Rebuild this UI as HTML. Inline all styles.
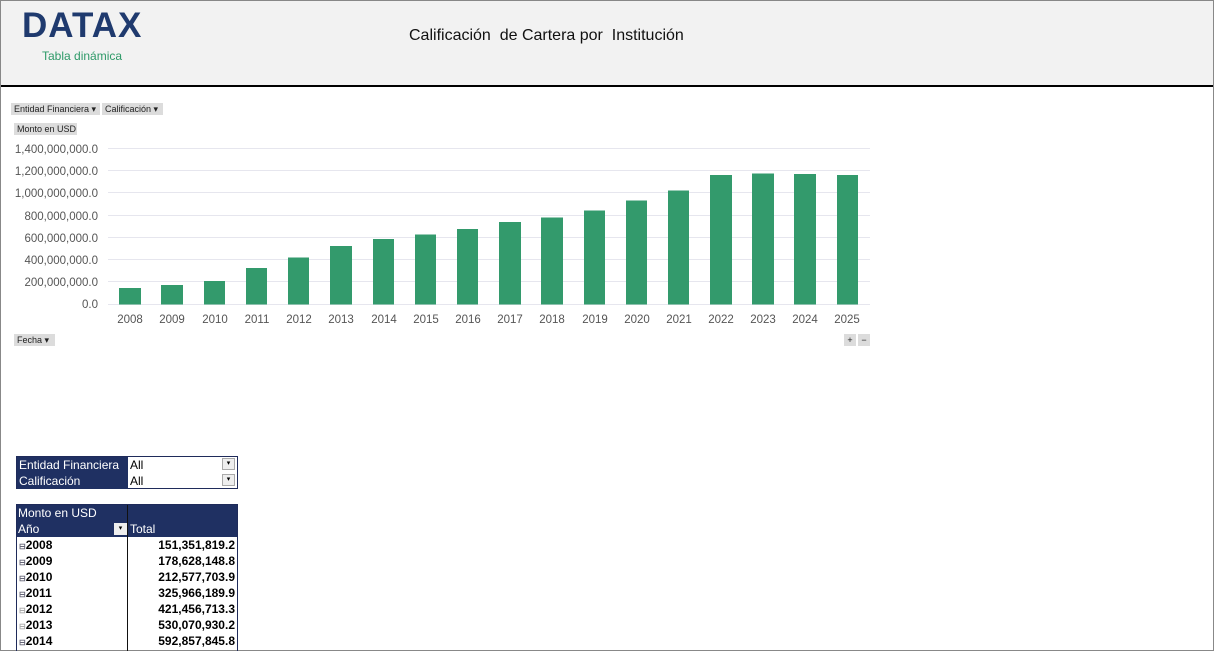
<!DOCTYPE html>
<html><head><meta charset="utf-8"><style>
html,body{margin:0;width:1214px;height:651px;overflow:hidden}
body{background:#fff;font-family:"Liberation Sans",sans-serif;position:relative}
.frame{position:absolute;left:0;top:0;width:1212px;height:649px;border:1px solid #888;}
.hdr{position:absolute;left:1px;top:1px;width:1212px;height:84px;background:#f2f2f2;border-bottom:2px solid #000}
.btn{position:absolute;background:#dcdcdc;font-size:9px;color:#222;height:12px;line-height:12px;padding:0 3px;box-sizing:border-box;white-space:nowrap}
.cell{position:absolute;height:16px;line-height:16px;font-size:12px;box-sizing:border-box;white-space:nowrap}
</style></head><body>
<div class="frame"></div>
<div class="hdr"></div>
<div style="position:absolute;left:22px;top:6px;font-size:35px;font-weight:bold;color:#1f3a6e;letter-spacing:1px">DATAX</div>
<div style="position:absolute;left:42px;top:49px;font-size:12px;color:#2e9a68">Tabla dinámica</div>
<div style="position:absolute;left:409px;top:27px;font-size:16px;color:#111">Calificación&nbsp; de Cartera por&nbsp; Institución</div>

<div class="btn" style="left:11px;top:103px;width:89px">Entidad Financiera ▾</div>
<div class="btn" style="left:102px;top:103px;width:61px">Calificación ▾</div>
<div class="btn" style="left:14px;top:123px;width:63px">Monto en USD</div>
<div class="btn" style="left:14px;top:334px;width:41px">Fecha ▾</div>
<div class="btn" style="left:844px;top:334px;width:12px;padding:0;text-align:center">+</div>
<div class="btn" style="left:858px;top:334px;width:12px;padding:0;text-align:center">−</div>

<svg style="position:absolute;left:0;top:0" width="1214" height="651">
<g stroke="#e6e6ee" stroke-width="1">
<line x1="108" x2="870" y1="148.5" y2="148.5"/><line x1="108" x2="870" y1="170.5" y2="170.5"/>
<line x1="108" x2="870" y1="192.5" y2="192.5"/><line x1="108" x2="870" y1="215.5" y2="215.5"/>
<line x1="108" x2="870" y1="237.5" y2="237.5"/><line x1="108" x2="870" y1="259.5" y2="259.5"/>
<line x1="108" x2="870" y1="281.5" y2="281.5"/><line x1="108" x2="870" y1="304.5" y2="304.5"/>
</g>
<g font-family="Liberation Sans" font-size="11.5" fill="#555" text-anchor="end">
<text x="98" y="153">1,400,000,000.0</text><text x="98" y="175">1,200,000,000.0</text>
<text x="98" y="197">1,000,000,000.0</text><text x="98" y="220">800,000,000.0</text>
<text x="98" y="242">600,000,000.0</text><text x="98" y="264">400,000,000.0</text>
<text x="98" y="286">200,000,000.0</text><text x="98" y="308">0.0</text>
</g>
<g fill="#339a6c">
<rect x="119" y="288" width="22" height="16.5"/>
<rect x="161" y="285" width="22" height="19.5"/>
<rect x="204" y="281" width="21" height="23.5"/>
<rect x="246" y="268" width="21" height="36.5"/>
<rect x="288" y="257.5" width="21" height="47"/>
<rect x="330" y="246" width="22" height="58.5"/>
<rect x="373" y="239" width="21" height="65.5"/>
<rect x="415" y="234.5" width="21" height="70"/>
<rect x="457" y="229" width="21" height="75.5"/>
<rect x="499" y="222" width="22" height="82.5"/>
<rect x="541" y="217.5" width="22" height="87"/>
<rect x="584" y="210.5" width="21" height="94"/>
<rect x="626" y="200.5" width="21" height="104"/>
<rect x="668" y="190.5" width="21" height="114"/>
<rect x="710" y="175" width="22" height="129.5"/>
<rect x="752" y="173.5" width="22" height="131"/>
<rect x="794" y="174" width="22" height="130.5"/>
<rect x="837" y="175" width="21" height="129.5"/>
</g>
<g font-family="Liberation Sans" font-size="11.5" fill="#555" text-anchor="middle">
<text x="130" y="323">2008</text><text x="172" y="323">2009</text><text x="215" y="323">2010</text>
<text x="257" y="323">2011</text><text x="299" y="323">2012</text><text x="341" y="323">2013</text>
<text x="384" y="323">2014</text><text x="426" y="323">2015</text><text x="468" y="323">2016</text>
<text x="510" y="323">2017</text><text x="552" y="323">2018</text><text x="595" y="323">2019</text>
<text x="637" y="323">2020</text><text x="679" y="323">2021</text><text x="721" y="323">2022</text>
<text x="763" y="323">2023</text><text x="805" y="323">2024</text><text x="847" y="323">2025</text>
</g>
</svg>

<div style="position:absolute;left:16px;top:456px;width:222px;height:33px;border:1px solid #1f2b5a;box-sizing:border-box"></div>
<div class="cell" style="left:17px;top:457px;width:111px;background:#1f3062;color:#fff;padding-left:2px">Entidad Financiera</div>
<div class="cell" style="left:17px;top:473px;width:111px;background:#1f3062;color:#fff;padding-left:2px">Calificación</div>
<div class="cell" style="left:130px;top:457px">All</div>
<div class="cell" style="left:130px;top:473px">All</div>
<div style="position:absolute;left:222px;top:458px;width:13px;height:12px;background:#eee;border:1px solid #aaa;box-sizing:border-box;font-size:7px;text-align:center;line-height:10px">▾</div>
<div style="position:absolute;left:222px;top:474px;width:13px;height:12px;background:#eee;border:1px solid #aaa;box-sizing:border-box;font-size:7px;text-align:center;line-height:10px">▾</div>

<div style="position:absolute;left:16px;top:504px;width:222px;height:150px;border:1px solid #1f2b5a;border-bottom:none;box-sizing:border-box"></div>
<div style="position:absolute;left:17px;top:505px;width:220px;height:32px;background:#1f3062"></div>
<div style="position:absolute;left:127px;top:505px;width:1px;height:150px;background:#111"></div>
<div class="cell" style="left:18px;top:505px;color:#fff">Monto en USD</div>
<div class="cell" style="left:18px;top:521px;color:#fff">Año</div>
<div style="position:absolute;left:114px;top:523px;width:13px;height:12px;background:#eee;font-size:7px;text-align:center;line-height:12px">▾</div>
<div class="cell" style="left:130px;top:521px;color:#fff">Total</div>
<div class="cell" style="left:19px;top:537px;font-weight:bold"><span style="font-size:8px;color:#667">⊟</span>2008</div><div class="cell" style="left:128px;top:537px;width:107px;text-align:right;font-weight:bold">151,351,819.2</div>
<div class="cell" style="left:19px;top:553px;font-weight:bold"><span style="font-size:8px;color:#667">⊟</span>2009</div><div class="cell" style="left:128px;top:553px;width:107px;text-align:right;font-weight:bold">178,628,148.8</div>
<div class="cell" style="left:19px;top:569px;font-weight:bold"><span style="font-size:8px;color:#667">⊟</span>2010</div><div class="cell" style="left:128px;top:569px;width:107px;text-align:right;font-weight:bold">212,577,703.9</div>
<div class="cell" style="left:19px;top:585px;font-weight:bold"><span style="font-size:8px;color:#667">⊟</span>2011</div><div class="cell" style="left:128px;top:585px;width:107px;text-align:right;font-weight:bold">325,966,189.9</div>
<div class="cell" style="left:19px;top:601px;font-weight:bold"><span style="font-size:8px;color:#aaa">⊟</span>2012</div><div class="cell" style="left:128px;top:601px;width:107px;text-align:right;font-weight:bold">421,456,713.3</div>
<div class="cell" style="left:19px;top:617px;font-weight:bold"><span style="font-size:8px;color:#aaa">⊟</span>2013</div><div class="cell" style="left:128px;top:617px;width:107px;text-align:right;font-weight:bold">530,070,930.2</div>
<div class="cell" style="left:19px;top:633px;font-weight:bold"><span style="font-size:8px;color:#667">⊟</span>2014</div><div class="cell" style="left:128px;top:633px;width:107px;text-align:right;font-weight:bold">592,857,845.8</div>
</body></html>
